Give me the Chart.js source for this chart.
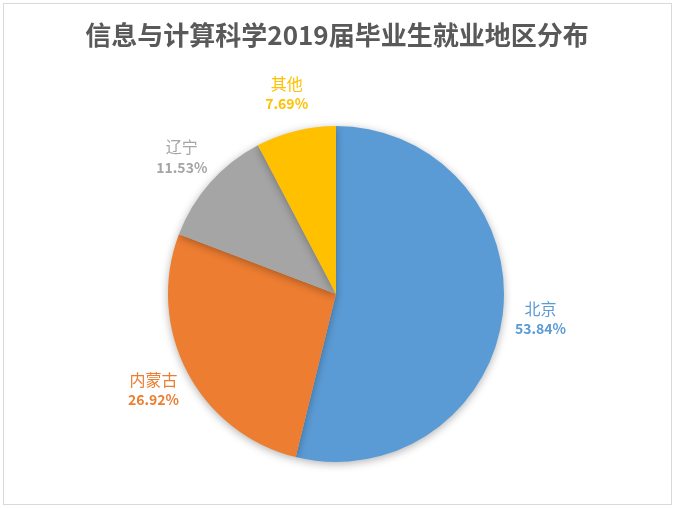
<!DOCTYPE html>
<html><head><meta charset="utf-8">
<script src="https://cdn.jsdelivr.net/npm/chart.js@4/dist/chart.umd.min.js"></script>
<style>html,body{margin:0;padding:0;background:#fff;}#wrap{width:675px;height:508px;position:relative;}</style>
</head><body><div id="wrap"><canvas id="c" width="675" height="508"></canvas></div>
<script>
const titleText = '信息与计算科学2019届毕业生就业地区分布';
const categories = ['北京', '内蒙古', '辽宁', '其他'];
const values = [53.84, 26.92, 11.53, 7.69];
const colors = ['#5B9BD5', '#ED7D31', '#A5A5A5', '#FFC000'];
const FONT = '"Noto Sans CJK SC", "Noto Sans", sans-serif';

const deco = {
  id: 'deco',
  beforeDraw(chart) {
    const ctx = chart.ctx;
    ctx.save();
    ctx.fillStyle = '#fff';
    ctx.fillRect(0, 0, chart.width, chart.height);
    ctx.strokeStyle = '#d9d9d9';
    ctx.lineWidth = 1;
    ctx.strokeRect(3.5, 3.5, chart.width - 7, chart.height - 7);
    ctx.fillStyle = '#595959';
    ctx.font = 'bold 26px ' + FONT;
    ctx.textAlign = 'center';
    ctx.textBaseline = 'middle';
    ctx.fillText(titleText, 337, 35);
    ctx.restore();
  },
  beforeDatasetDraw(chart) {
    const ctx = chart.ctx;
    ctx.save();
    ctx.shadowColor = 'rgba(0,0,0,0.3)';
    ctx.shadowBlur = 8;
    ctx.shadowOffsetY = 2;
  },
  afterDatasetDraw(chart) {
    chart.ctx.restore();
  },
  afterDraw(chart) {
    const ctx = chart.ctx;
    const meta = chart.getDatasetMeta(0);
    ctx.save();
    ctx.textAlign = 'center';
    ctx.textBaseline = 'middle';
    meta.data.forEach((arc, i) => {
      const mid = (arc.startAngle + arc.endAngle) / 2;
      const r = arc.outerRadius + 38;
      const x = arc.x + Math.cos(mid) * r;
      const y = arc.y + Math.sin(mid) * r;
      ctx.fillStyle = colors[i];
      ctx.font = '16px ' + FONT;
      ctx.fillText(categories[i], x, y - 10);
      ctx.font = 'bold 14px ' + FONT;
      ctx.fillText(values[i].toFixed(2) + '%', x, y + 10);
    });
    ctx.restore();
  }
};

new Chart(document.getElementById('c'), {
  type: 'pie',
  data: {
    labels: categories,
    datasets: [{ data: values, backgroundColor: colors, borderColor: '#ffffff', borderWidth: 0 }]
  },
  options: {
    responsive: false,
    animation: false,
    layout: { padding: { top: 126, bottom: 46, left: 168, right: 171 } },
    plugins: { legend: { display: false }, title: { display: false }, tooltip: { enabled: false } }
  },
  plugins: [deco]
});
</script></body></html>
